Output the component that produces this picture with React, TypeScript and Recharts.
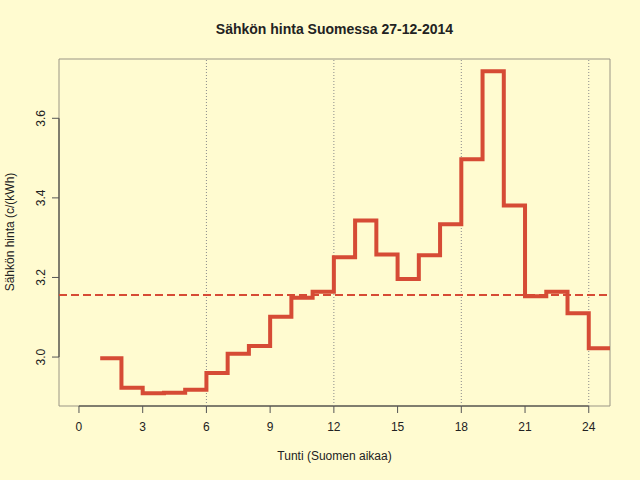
import React from 'react'
import {
  ComposedChart, Line, XAxis, YAxis, ReferenceLine, ReferenceArea,
} from 'recharts'

// hourly spot price, c/kWh, hour 1..24 (value holds until next hour)
const hours = [1, 2, 3, 4, 5, 6, 7, 8, 9, 10, 11, 12, 13, 14, 15, 16, 17, 18, 19, 20, 21, 22, 23, 24, 25]
const prices = [
  2.997, 2.923, 2.909, 2.910, 2.918, 2.960, 3.008, 3.028, 3.101, 3.149, 3.164, 3.251,
  3.343, 3.258, 3.196, 3.256, 3.334, 3.497, 3.718, 3.381, 3.153, 3.164, 3.110, 3.022,
  3.022,
]
const meanPrice = 3.156
const xTicks = [0, 3, 6, 9, 12, 15, 18, 21, 24]
const yTicks = [3.0, 3.2, 3.4, 3.6]
const vLines = [6, 12, 18, 24]

const X_DOMAIN: [number, number] = [-0.94, 25]
const Y_DOMAIN: [number, number] = [2.877, 3.749]

const BG = '#FFFBD0'
const RED = '#D64B35'
const FONT = '"Liberation Sans", Arial, sans-serif'

const data = hours.map((h, i) => ({ h, p: prices[i] }))

function YTick({ y, payload }: any) {
  return (
    <g>
      <line x1={52} x2={59} y1={y} y2={y} stroke="#555" />
      <text
        x={45} y={y}
        transform={`rotate(-90, 45, ${y})`}
        textAnchor="middle"
        fontSize={12}
        fill="#222"
        fontFamily={FONT}
      >
        {payload.value.toFixed(1)}
      </text>
    </g>
  )
}

export default function App() {
  return (
    <div style={{ position: 'absolute', left: 0, top: 0, width: 640, height: 480, background: BG, fontFamily: FONT, color: '#222' }}>
      <div style={{ position: 'absolute', top: 21, left: 59, width: 551, textAlign: 'center', fontWeight: 'bold', fontSize: 14 }}>
        Sähkön hinta Suomessa 27-12-2014
      </div>
      <div style={{ position: 'absolute', top: 449, left: 59, width: 551, textAlign: 'center', fontSize: 12 }}>
        Tunti (Suomen aikaa)
      </div>
      <div style={{
        position: 'absolute', left: 10, top: 232, width: 300, textAlign: 'center', fontSize: 12,
        transform: 'translate(-50%, -50%) rotate(-90deg)', lineHeight: '14px',
      }}>
        Sähkön hinta (c/(kWh)
      </div>
      <ComposedChart
        width={640}
        height={480}
        data={data}
        margin={{ top: 59, right: 30, bottom: 20, left: 0 }}
        style={{ position: 'absolute', left: 0, top: 0 }}
      >
        <XAxis
          dataKey="h"
          type="number"
          domain={X_DOMAIN}
          ticks={xTicks}
          allowDataOverflow
          height={54}
          tickSize={7}
          tickMargin={9}
          axisLine={false}
          tickLine={{ stroke: '#555' }}
          tick={{ fontSize: 12, fill: '#222', fontFamily: FONT }}
        />
        <YAxis
          type="number"
          domain={Y_DOMAIN}
          ticks={yTicks}
          allowDataOverflow
          width={59}
          axisLine={false}
          tickLine={false}
          tick={<YTick />}
        />
        <ReferenceArea x1={X_DOMAIN[0]} x2={X_DOMAIN[1]} y1={Y_DOMAIN[0]} y2={Y_DOMAIN[1]} fill="none" stroke="#9a9585" />
        <ReferenceLine segment={[{ x: 0, y: Y_DOMAIN[0] }, { x: 24, y: Y_DOMAIN[0] }]} stroke="#333" />
        <ReferenceLine segment={[{ x: X_DOMAIN[0], y: 3.0 }, { x: X_DOMAIN[0], y: 3.6 }]} stroke="#333" />
        {vLines.map(v => (
          <ReferenceLine key={v} x={v} stroke="#8a8a8a" strokeDasharray="1 2" />
        ))}
        <ReferenceLine y={meanPrice} stroke={RED} strokeWidth={2} strokeDasharray="8 4" />
        <Line
          dataKey="p"
          type="stepAfter"
          stroke={RED}
          strokeWidth={4}
          dot={false}
          activeDot={false}
          isAnimationActive={false}
        />
      </ComposedChart>
    </div>
  )
}
